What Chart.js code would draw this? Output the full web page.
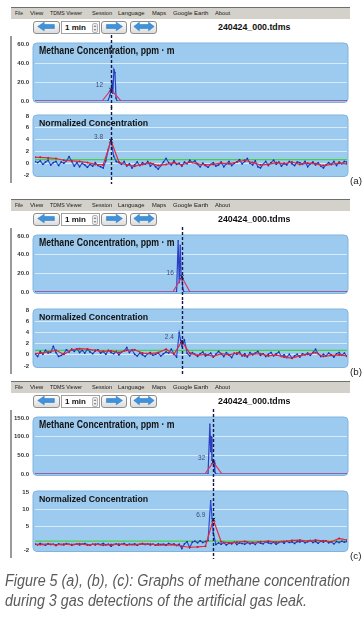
<!DOCTYPE html>
<html><head><meta charset="utf-8">
<script src="https://cdn.jsdelivr.net/npm/chart.js@4.4.1/dist/chart.umd.min.js"></script>
<style>
html,body{margin:0;padding:0;background:#fff;}
body{width:363px;height:621px;position:relative;overflow:hidden;font-family:"Liberation Sans",Arial,sans-serif;}
.menubar{position:absolute;left:11px;width:339px;height:11px;background:#d4d1ca;border-top:1px solid #6e6e6e;}
.btn{position:absolute;height:13px;border:1px solid #8d8d8d;border-radius:3px;background:linear-gradient(#fdfdfd,#dcdcdc);box-sizing:border-box;}
.box{position:absolute;height:13px;border:1px solid #a0a0a0;background:#fff;box-sizing:border-box;}
.txt{position:absolute;white-space:nowrap;transform-origin:0 50%;}
.vline{position:absolute;left:10px;width:1.5px;background:#9a9a9a;}
canvas{position:absolute;left:0;}
</style></head><body>
<script>
// ---------------- DATA ----------------
const MENU_ITEMS = ["File","View","TDMS Viewer","Session","Language","Maps","Google Earth","About"];
const FILE_NAME = "240424_000.tdms";
const SPAN_LABEL = "1 min";
const PANEL_LABELS = ["(a)","(b)","(c)"];
const TITLE_TOP = "Methane Concentration, ppm \u00b7 m";
const TITLE_BOTTOM = "Normalized Concentration";
const CAPTION = ["Figure 5 (a), (b), (c): Graphs of methane concentration",
                 "during 3 gas detections of the artificial gas leak."];

// y-axis tick labels
const TICKS_METH_AB = [0, 20, 40, 60];
const TICKS_METH_C = [0, 50, 100, 150];
const TICKS_NORM_AB = [-2, 0, 2, 4, 6, 8];
const TICKS_NORM_C = [-2, 5, 10, 15];

// sample positions (1 min window)
const SAMPLE_X = Array.from({length: 120}, (_, i) => i);
const RED_X = [0,2,5,8,11,14,17,20,23,26,29,32,35,38,41,44,47,50,53,56,59,62,65,68,71,74,77,80,83,86,89,92,95,98,101,104,107,110,113,116,119];

// cursor position (dashed line) and threshold (green)
const CURSOR_X = [29, 56, 68];
const THRESHOLD = [0.6, 0.8, 0.6];

// Methane concentration, ppm·m (raw = blue, smoothed = red)
const METH_A_BLUE_X = [0, 27.8, 28.6, 29.0, 29.4, 29.7, 30.1, 30.5, 30.9, 31.3, 119];
const METH_A_BLUE_Y = [0, 0, 6, 12, 18, 8, 33, 30, 3, 0, 0];
const METH_A_RED_X = [0, 25.6, 29, 32.8, 119];
const METH_A_RED_Y = [0, 0, 12, 0, 0];

const METH_B_BLUE_X = [0, 54.0, 54.6, 55.0, 55.4, 55.7, 56.0, 56.4, 56.8, 119];
const METH_B_BLUE_Y = [0, 0, 55, 10, 50, 18, 16, 3, 0, 0];
const METH_B_RED_X = [0, 52.6, 56, 59.1, 119];
const METH_B_RED_Y = [0, 0, 16, 0, 0];

const METH_C_BLUE_X = [0, 66.0, 66.7, 67.0, 67.2, 67.5, 67.9, 68.3, 68.6, 69.0, 119];
const METH_C_BLUE_Y = [0, 0, 134, 60, 100, 40, 30, 32, 5, 0, 0];
const METH_C_RED_X = [0, 64.8, 68, 71.3, 119];
const METH_C_RED_Y = [0, 0, 32, 0, 0];

// Normalized concentration (blue = raw, red = smoothed)
const NORM_A_BLUE = [
 0.3, 0.1, 0.4, -0.2, 0.2, 0.5, -0.3, 0.1, 0.3, -0.4,
 0.2, 0.0, 0.4, 1.1, 0.3, -0.5, 0.1, -0.6, 0.0, -0.3,
 -0.7, -0.2, -0.5, 0.1, -0.4, -0.6, -0.8, 0.4, 2.4, 4.0,
 1.2, 0.3, 0.1, -0.2, 0.3, -0.5, -0.1, -0.8, -0.3, 0.2,
 -0.4, 0.1, -0.2, 0.3, -0.5, -0.1, -0.6, -1.0, -0.4, 0.2,
 0.8, 0.1, -0.3, 0.4, -0.2, 0.0, -0.5, 0.2, -0.1, 0.5,
 0.1, 0.4, -0.2, -0.6, 0.0, -0.4, -0.7, -0.2, 0.1, -0.5,
 -0.3, 0.2, -0.6, -0.1, 0.3, -0.4, 0.0, 0.2, 0.6, -0.1,
 0.3, 0.8, 0.0, -0.3, 0.4, -0.6, -0.8, -0.2, 0.3, -0.4,
 0.1, 0.5, -0.2, 0.2, -0.5, 0.0, -0.3, 0.3, -0.1, -0.4,
 0.2, 0.1, -0.2, 0.3, -0.6, -0.1, 0.2, -0.3, 0.1, -0.5,
 -0.8, -0.3, 0.1, -0.2, 0.3, -0.4, 0.2, -0.1, 0.3, 0.2];
const NORM_A_RED = [1.0, 1.0, 0.9, 0.8, 0.5, 0.4, 0.3, 0.1, -0.2, -0.3, 3.8, 0.2, -0.3, -0.5, -0.2, 0.0, -0.4, -0.2, 0.1, -0.3, 0.2, -0.1, -0.3, -0.2, 0.0, -0.1, 0.2, 0.5, 0.1, -0.3, -0.2, 0.1, -0.1, 0.2, -0.2, 0.0, -0.1, -0.4, -0.2, 0.0, -0.1];

const NORM_B_BLUE = [
 0.2, -0.3, 0.6, 0.1, 0.8, 0.3, 0.5, 1.5, 0.4, -0.3,
 -0.1, 0.2, 0.9, 0.5, 1.0, 0.6, 1.1, 0.4, 0.8, 0.3,
 1.0, 0.5, 0.2, 0.7, 0.9, 0.3, 0.6, 0.1, 0.8, 0.4,
 0.2, 0.6, 0.0, 0.5, 0.7, 1.3, 0.4, 0.9, 0.1, -0.2,
 0.3, 0.0, -0.3, 0.2, 0.4, -0.1, 0.1, 0.3, -0.2, 0.2,
 0.5, 0.3, 1.0, 0.2, -0.4, 3.9, 1.6, 2.6, 0.3, -0.2,
 0.4, 0.1, -0.3, 0.2, 0.5, -0.2, 0.0, 0.3, -0.4, 0.1,
 0.6, 0.2, -0.3, 0.4, 0.0, -0.5, 0.3, 0.1, 0.5, -0.2,
 0.2, -0.4, 0.4, 0.0, 0.3, 0.6, -0.1, 0.2, -0.3, 0.1,
 0.4, -0.2, 0.2, 0.5, -0.3, 0.0, -0.5, 0.1, -0.6, -0.2,
 0.1, -0.4, 0.2, 0.0, 0.3, -0.1, 0.4, 1.0, 0.2, -0.3,
 0.1, -0.2, 0.3, 0.0, -0.4, 0.2, 0.4, -0.1, 0.3, -0.3];
const NORM_B_RED = [0.2, 0.3, 0.5, 0.8, 0.1, 0.9, 1.1, 1.0, 0.8, 0.6, 0.7, 0.4, 0.8, 0.9, 0.3, 0.2, 0.4, 1.0, 0.1, 2.4, 0.3, -0.1, 0.1, -0.3, 0.2, 0.0, 0.3, -0.2, 0.1, 0.2, -0.2, 0.0, -0.4, -0.6, -0.2, 0.1, 0.4, -0.3, -0.1, 0.0, -0.2];

const NORM_C_BLUE = [
 -0.3, -0.5, -0.1, -0.4, -0.6, -0.2, -0.4, -0.3, -0.7, -0.2,
 -0.4, -0.5, -0.1, -0.3, -0.6, -0.4, -0.2, -0.5, -0.3, -0.1,
 -0.4, -0.6, -0.3, -0.5, -0.2, -0.4, -0.1, -0.5, -0.3, -0.9,
 -0.4, -0.2, -0.6, -0.3, -0.1, -0.5, -0.3, -0.4, -0.2, -0.6,
 -0.3, -0.1, -0.4, -0.2, -0.5, -0.3, -0.6, -0.2, -0.4, -0.3,
 -0.5, -0.1, -0.4, -0.2, -0.7, -0.3, -1.6, -0.2, 0.4, -1.3,
 0.3, 0.6, 0.1, 0.7, 0.2, 0.5, 0.8, 12.4, 3.0, -0.4,
 0.1, -0.3, 0.2, -0.5, 0.0, -0.2, 0.3, -0.4, 0.1, -0.1,
 -0.3, 0.2, -0.2, 0.1, -0.4, 0.3, 0.0, -0.2, 0.4, 0.1,
 -0.1, 0.3, -0.3, 0.2, 0.5, 0.0, 0.6, 0.2, 0.4, -0.1,
 0.5, 0.3, 0.7, 0.1, 0.4, 0.8, 0.2, 0.5, 0.0, 0.6,
 0.3, 0.7, 0.1, 0.4, -0.2, 0.5, 0.2, 0.6, 0.3, 0.5];
const NORM_C_RED = [-0.3, -0.4, -0.2, -0.5, -0.3, -0.4, -0.2, -0.5, -0.3, -0.6, -0.4, -0.3, -0.5, -0.4, -0.2, -0.3, -0.5, -0.6, -0.4, -0.9, -1.2, -1.1, -0.9, 6.9, 0.4, 0.1, 0.3, 0.5, 0.2, 0.4, 0.6, 0.3, 0.5, 0.8, 0.9, 0.6, 0.9, 0.7, 0.4, 1.4, 0.9];

// ---------------- LAYOUT ----------------
const GEO = [
  {top: [39, 106], bot: [111, 180], lab: 181},
  {top: [231, 297], bot: [305, 371], lab: 372},
  {top: [413, 479], bot: [487, 555], lab: 556}
];
const MENU_X = [15, 30, 50, 92, 118, 152, 173, 215];
const MENU_W = [8, 13, 32, 20, 27, 14, 35, 15];

const PANELS = [
  {meth: {ticks: TICKS_METH_AB, bx: METH_A_BLUE_X, by: METH_A_BLUE_Y, rx: METH_A_RED_X, ry: METH_A_RED_Y},
   norm: {ticks: TICKS_NORM_AB, blue: NORM_A_BLUE, red: NORM_A_RED}},
  {meth: {ticks: TICKS_METH_AB, bx: METH_B_BLUE_X, by: METH_B_BLUE_Y, rx: METH_B_RED_X, ry: METH_B_RED_Y},
   norm: {ticks: TICKS_NORM_AB, blue: NORM_B_BLUE, red: NORM_B_RED}},
  {meth: {ticks: TICKS_METH_C, bx: METH_C_BLUE_X, by: METH_C_BLUE_Y, rx: METH_C_RED_X, ry: METH_C_RED_Y},
   norm: {ticks: TICKS_NORM_C, blue: NORM_C_BLUE, red: NORM_C_RED}}
];

function el(tag, cls, css) {
  const e = document.createElement(tag);
  if (cls) e.className = cls;
  if (css) e.style.cssText = css;
  document.body.appendChild(e);
  return e;
}
function text(str, left, cy, size, opts) {
  opts = opts || {};
  const e = el('div', 'txt');
  e.textContent = str;
  const lh = size * 1.2;
  e.style.left = left + 'px';
  e.style.top = (cy - lh / 2) + 'px';
  e.style.lineHeight = lh + 'px';
  e.style.fontSize = size + 'px';
  e.style.fontWeight = opts.weight || 'normal';
  e.style.fontStyle = opts.style || 'normal';
  e.style.color = opts.color || '#222';
  if (opts.family) e.style.fontFamily = opts.family;
  let sc = 1;
  if (opts.width) { sc = opts.width / e.offsetWidth; }
  if (opts.scale) sc = opts.scale;
  e.style.transform = 'scaleX(' + sc + ')';
  return {e, sc};
}
function arrowSvg(kind) {
  let poly;
  if (kind === 'L') poly = '4,7 11,1.5 11,4.5 22,4.5 22,9.5 11,9.5 11,12.5';
  else if (kind === 'R') poly = '23,7 16,1.5 16,4.5 5,4.5 5,9.5 16,9.5 16,12.5';
  else poly = '3,7 9,1.5 9,4.5 19,4.5 19,1.5 25,7 19,12.5 19,9.5 9,9.5 9,12.5';
  return '<svg width="100%" height="100%" viewBox="0 0 27 14" preserveAspectRatio="none" style="position:absolute;left:0;top:-1px">' +
    '<polygon points="' + poly + '" fill="#3d93dd" stroke="#2b6fb4" stroke-width="0.6"/></svg>';
}

function makeChart(area, spec) {
  const padT = 4, padB = 4, W = 352;
  const H = area[1] - area[0] + padT + padB;
  const cv = el('canvas', '', `top:${area[0] - padT}px;width:${W}px;height:${H}px;`);
  cv.width = W; cv.height = H;
  const ticks = spec.ticks;
  const bg = {
    id: 'bg',
    beforeDraw(c) {
      const a = c.chartArea, ctx = c.ctx;
      ctx.save();
      ctx.beginPath();
      ctx.roundRect(a.left - 2, a.top - 1, a.right - a.left + 3, a.bottom - a.top + 2.5, 4);
      ctx.fillStyle = '#9dcbf0'; ctx.fill();
      ctx.strokeStyle = '#80b4df'; ctx.lineWidth = 1; ctx.stroke();
      ctx.restore();
    }
  };
  const cursor = {
    id: 'cursor',
    afterDatasetsDraw(c) {
      const ctx = c.ctx;
      const x = Math.round(c.scales.x.getPixelForValue(spec.cursor)) + 0.5;
      ctx.save();
      ctx.strokeStyle = '#15184a'; ctx.lineWidth = 1.4; ctx.setLineDash([3, 2]);
      ctx.beginPath(); ctx.moveTo(x, 0); ctx.lineTo(x, c.height); ctx.stroke();
      const px = c.scales.x.getPixelForValue(spec.peak.x);
      const py = c.scales.y.getPixelForValue(spec.peak.y);
      ctx.setLineDash([]);
      ctx.font = '6.5px "Liberation Sans", Arial, sans-serif';
      ctx.fillStyle = '#3c4a7c';
      ctx.textAlign = 'right'; ctx.textBaseline = 'middle';
      ctx.fillText(spec.peakText, px - 8, py - 4);
      ctx.restore();
    }
  };
  new Chart(cv.getContext('2d'), {
    type: 'line',
    data: {datasets: spec.datasets},
    options: {
      responsive: false, animation: false, devicePixelRatio: 1, events: [],
      layout: {padding: {top: padT, bottom: padB, left: 0, right: 5}},
      plugins: {legend: {display: false}, tooltip: {enabled: false}},
      scales: {
        x: {type: 'linear', display: false, min: 0, max: 119},
        y: {
          type: 'linear', position: 'left', min: ticks[0], max: ticks[ticks.length - 1],
          afterBuildTicks(s) { s.ticks = ticks.map(v => ({value: v})); },
          afterFit(s) { s.width = 35; },
          ticks: {
            padding: 6, color: '#333',
            font: {family: '"Liberation Sans", Arial, sans-serif', size: 6, weight: 'bold', lineHeight: 1},
            callback: v => spec.fmt(v)
          },
          grid: {drawTicks: false,
            color: c => (c.index === 0 || c.index === ticks.length - 1) ? 'rgba(0,0,0,0)' : 'rgba(235,245,255,0.75)',
            lineWidth: 1},
          border: {display: false}
        }
      }
    },
    plugins: [bg, cursor]
  });
}

function peakOf(xs, ys) {
  let k = 0;
  ys.forEach((v, i) => { if (v > ys[k]) k = i; });
  return {x: xs[k], y: ys[k]};
}
function pts(xs, ys) { return ys.map((y, i) => ({x: xs[i], y})); }

GEO.forEach((g, p) => {
  const P = PANELS[p];
  const t0 = g.top[0];
  el('div', 'menubar', `top:${t0 - 32}px;`);
  MENU_ITEMS.forEach((m, i) => text(m, MENU_X[i], t0 - 26.5, 6.2, {width: MENU_W[i], color: '#1a1a1a'}));
  const by = t0 - 18;
  const b1 = el('div', 'btn', `left:33px;top:${by}px;width:27px;`); b1.innerHTML = arrowSvg('L');
  el('div', 'box', `left:61px;top:${by}px;width:39px;`);
  text(SPAN_LABEL, 65, by + 6.5, 8, {weight: 'bold', width: 21, color: '#111'});
  const sp = el('div', '', `position:absolute;left:92px;top:${by + 1.5}px;width:6px;height:10px;border:1px solid #b5b5b5;border-radius:2px;background:#f0f0f0;box-sizing:border-box;`);
  sp.innerHTML = '<svg width="6" height="10" style="position:absolute;left:-1px;top:-1px"><polygon points="1.5,4 3,2 4.5,4" fill="#8a8a8a"/><polygon points="1.5,6 3,8 4.5,6" fill="#8a8a8a"/></svg>';
  const b2 = el('div', 'btn', `left:101px;top:${by}px;width:26px;`); b2.innerHTML = arrowSvg('R');
  const b3 = el('div', 'btn', `left:130px;top:${by}px;width:27px;`); b3.innerHTML = arrowSvg('D');
  text(FILE_NAME, 218, t0 - 11, 8.2, {weight: 'bold', width: 72, color: '#111'});
  el('div', 'vline', `top:${t0 - 3}px;height:${g.bot[1] - t0 + 6}px;`);

  const m = P.meth;
  const mPeak = peakOf(m.rx, m.ry);
  makeChart(g.top, {
    ticks: m.ticks, fmt: v => v.toFixed(1), cursor: CURSOR_X[p],
    peak: mPeak, peakText: String(Math.round(mPeak.y)),
    datasets: [
      {data: [mPeak], showLine: false, pointStyle: 'crossRot', pointRadius: 2.5, borderColor: '#15184a', borderWidth: 1},
      {data: pts(m.rx, m.ry), borderColor: '#d8386a', borderWidth: 1.2, pointRadius: 0, tension: 0},
      {data: pts(m.bx, m.by), borderColor: '#2a3fc4', borderWidth: 1.2, pointRadius: 0.8, pointStyle: 'rect',
       pointBackgroundColor: '#1c2a90', pointBorderWidth: 0, tension: 0}
    ]
  });
  text(TITLE_TOP, 39, t0 + 11.5, 10, {weight: 'bold', width: 136, color: '#111'});

  const n = P.norm;
  const nPeak = peakOf(RED_X, n.red);
  makeChart(g.bot, {
    ticks: n.ticks, fmt: v => String(v), cursor: CURSOR_X[p],
    peak: nPeak, peakText: nPeak.y.toFixed(1),
    datasets: [
      {data: [nPeak], showLine: false, pointStyle: 'crossRot', pointRadius: 2.5, borderColor: '#15184a', borderWidth: 1},
      {data: pts(RED_X, n.red), borderColor: '#e4283e', borderWidth: 1.2, pointRadius: 1, pointBackgroundColor: '#c81830',
       pointBorderWidth: 0, tension: 0},
      {data: pts(SAMPLE_X, n.blue), borderColor: '#2b4fd6', borderWidth: 1.2, pointRadius: 1, pointStyle: 'rect',
       pointBackgroundColor: '#1a2a9a', pointBorderWidth: 0, tension: 0},
      {data: [{x: 0, y: THRESHOLD[p]}, {x: 119, y: THRESHOLD[p]}], borderColor: '#46d046', borderWidth: 1.3, pointRadius: 0}
    ]
  });
  text(TITLE_BOTTOM, 39, g.bot[0] + 12, 9.5, {weight: 'bold', width: 109, color: '#111'});

  text(PANEL_LABELS[p], 350, g.lab, 9, {width: 12, color: '#222'});
});

const cap1 = text(CAPTION[0], 5, 581, 16, {style: 'italic', color: '#5a5a5a', width: 345,
  family: '"Liberation Sans Narrow","Liberation Sans",Arial,sans-serif'});
text(CAPTION[1], 5, 601, 16, {style: 'italic', color: '#5a5a5a', scale: cap1.sc,
  family: '"Liberation Sans Narrow","Liberation Sans",Arial,sans-serif'});
</script>
</body></html>
